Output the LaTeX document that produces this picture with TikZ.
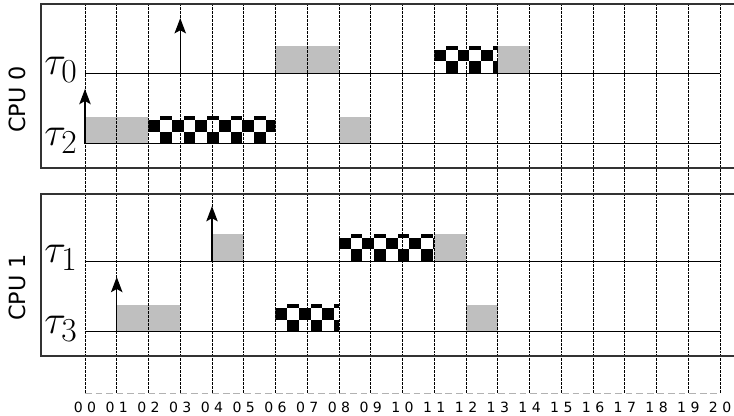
\documentclass[tikz,border=0pt]{standalone}
\usepackage{fontspec}
\setsansfont{DejaVu Sans}
\usetikzlibrary{arrows.meta}

% checkered job: start, end, base line
\newcommand{\checkjob}[3]{%
  \begin{scope}
    \clip (#1,#3) rectangle (#2,#3+0.85);
    \fill[white] (#1,#3) rectangle (#2,#3+0.85);
    \pgfmathtruncatemacro{\ncol}{(#2-#1)/0.37}
    \foreach \i in {0,...,\ncol} {
      \foreach \j in {0,1,2} {
        \pgfmathtruncatemacro{\odd}{mod(\i+\j,2)}
        \ifnum\odd=1 \fill (#1+\i*0.37,#3+\j*0.37) rectangle ++(0.37,0.37); \fi
      }
    }
  \end{scope}}

\begin{document}
\begin{tikzpicture}[
    grid line/.style={line width=0.8pt, dash pattern=on 0.6pt off 0.6pt},
    task line/.style={line width=0.8pt},
    cpu frame/.style={line width=1.5pt, draw=black!80},
    wait job/.style={fill=gray!50},
    release/.style={line width=1.2pt, -{Stealth[length=0.48cm,width=0.36cm,inset=0.1cm]}},
    task label/.style={anchor=east, inner sep=0pt, scale=1.45, font=\Huge},
    cpu label/.style={rotate=90, font=\sffamily\fontsize{20}{24}\selectfont},
    time label/.style={font=\sffamily\fontsize{12.6}{14}\selectfont}
]
    \useasboundingbox (-2.677,0) rectangle (20.441,13.102);

    % Jobs on CPU 0
    \fill[wait job] (6,10.80) rectangle (8,11.65);
    \checkjob{11}{13}{10.80}
    \fill[wait job] (13,10.80) rectangle (14,11.65);
    \fill[wait job] (0,8.57) rectangle (2,9.42);
    \checkjob{2}{6}{8.57}
    \fill[wait job] (8,8.57) rectangle (9,9.42);

    % Jobs on CPU 1
    \fill[wait job] (4,4.88) rectangle (5,5.73);
    \checkjob{8}{11}{4.88}
    \fill[wait job] (11,4.88) rectangle (12,5.73);
    \fill[wait job] (1,2.65) rectangle (3,3.50);
    \checkjob{6}{8}{2.65}
    \fill[wait job] (12,2.65) rectangle (13,3.50);

    % Time grid and labels
    \foreach \t in {0,...,20} {
        \draw[grid line] (\t,0.724) -- (\t,12.976);
        \pgfmathtruncatemacro{\tens}{\t/10}
        \pgfmathtruncatemacro{\ones}{mod(\t,10)}
        \node[time label] (t\t) at (\t,0.283) {\tens\hspace{0.32em}\ones};
    }
    \draw[gray!60, line width=0.6pt, dash pattern=on 6pt off 3.5pt] (0,0.724) -- (20,0.724);

    % Task lines
    \foreach \y in {10.80, 8.57, 4.88, 2.65} {
        \draw[task line] (0,\y) -- (20,\y);
    }

    % CPU frames
    \draw[cpu frame] (21,12.976) -- (-1.39,12.976) -- (-1.39,7.811) -- (21,7.811);
    \draw[cpu frame] (21,6.992) -- (-1.39,6.992) -- (-1.39,1.890) -- (21,1.890);

    % Releases
    \draw[release] (3,10.80) -- (3,12.53);
    \draw[release] (0,8.57) -- (0,10.30);
    \draw[release] (4,4.88) -- (4,6.61);
    \draw[release] (1,2.65) -- (1,4.38);

    % Labels
    \node[cpu label] (cpu0) at (-2.13,9.97) {CPU 0};
    \node[cpu label] (cpu1) at (-2.13,4.05) {CPU 1};
    \node[task label] (tau0) at (-0.22,10.90) {$\tau_0$};
    \node[task label] (tau2) at (-0.22,8.67) {$\tau_2$};
    \node[task label] (tau1) at (-0.22,4.98) {$\tau_1$};
    \node[task label] (tau3) at (-0.22,2.75) {$\tau_3$};
\end{tikzpicture}
\end{document}
